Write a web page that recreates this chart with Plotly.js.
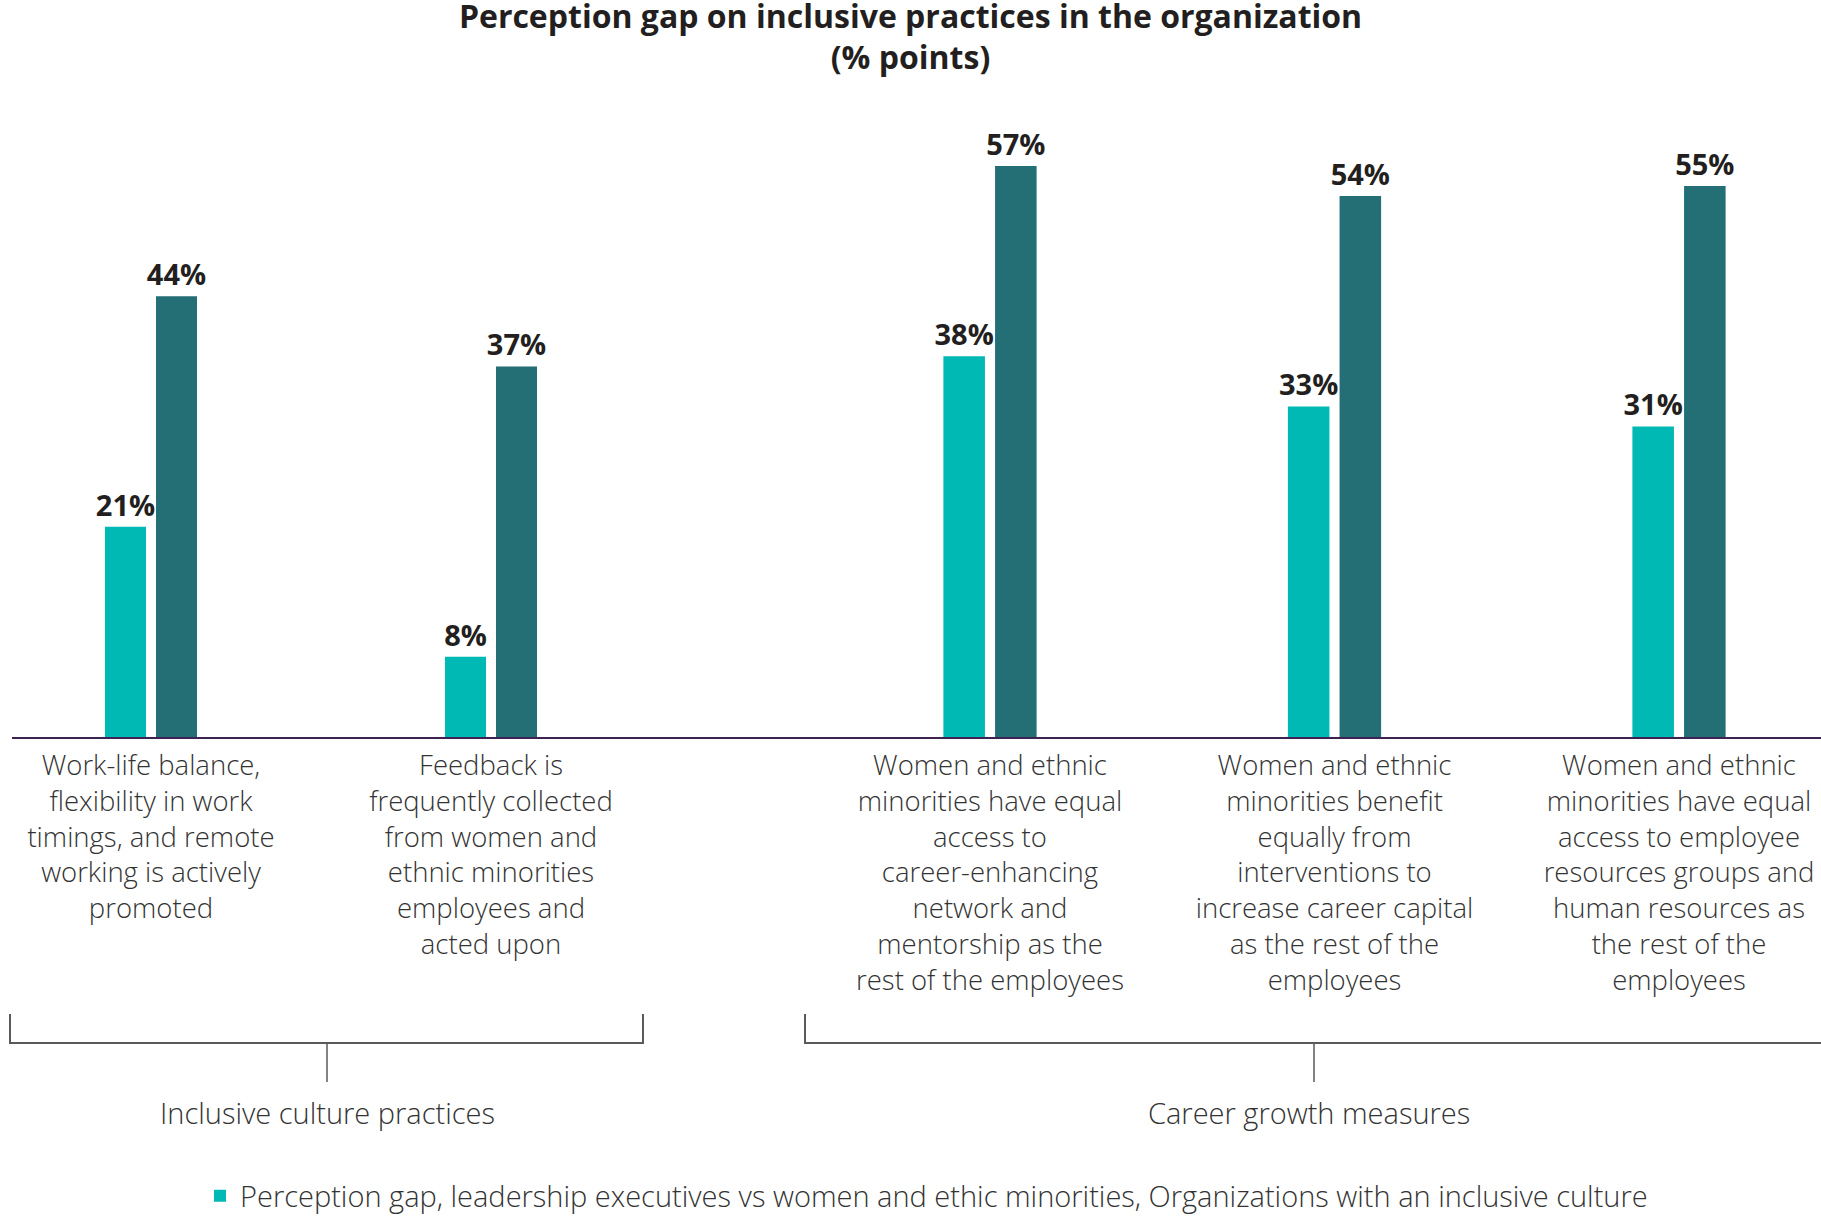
<!DOCTYPE html>
<html>
<head>
<meta charset="utf-8">
<script src="https://cdn.plot.ly/plotly-3.0.1.min.js"></script>
<style>html,body{margin:0;padding:0;background:#fff;}#chart{width:1821px;height:1229px;}</style>
</head>
<body>
<div id="chart"></div>
<script>
// ---- data ----
const cultureCategories = [
  "Work-life balance,<br>flexibility in work<br>timings, and remote<br>working is actively<br>promoted",
  "Feedback is<br>frequently collected<br>from women and<br>ethnic minorities<br>employees and<br>acted upon"
];
const careerCategories = [
  "Women and ethnic<br>minorities have equal<br>access to<br>career-enhancing<br>network and<br>mentorship as the<br>rest of the employees",
  "Women and ethnic<br>minorities benefit<br>equally from<br>interventions to<br>increase career capital<br>as the rest of the<br>employees",
  "Women and ethnic<br>minorities have equal<br>access to employee<br>resources groups and<br>human resources as<br>the rest of the<br>employees"
];
const cultureWithInclusive = [21, 8];
const cultureWithoutInclusive = [44, 37];
const careerWithInclusive = [38, 33, 31];
const careerWithoutInclusive = [57, 54, 55];
const groupLabels = ["Inclusive culture practices", "Career growth measures"];
const seriesNames = [
  "Perception gap, leadership executives vs women and ethic minorities, Organizations with an inclusive culture",
  "Perception gap, leadership executives vs women and ethic minorities, Organizations without an inclusive culture"
];
const chartTitle = "Perception gap on inclusive practices in the organization<br>(% points)";

// ---- style ----
const W = 1821, H = 1229;
const TEAL = "#00b9b4", DARK = "#246e76";
const FONT = "'Open Sans', 'Noto Sans', 'DejaVu Sans', sans-serif";
const plotTop = 136, plotBottom = 737;
const px = x => x / W;
const py = y => (plotBottom - y) / (plotBottom - plotTop);
const pct = v => v + "%";

const labelFont = {family: FONT, size: 29, color: "#231f20", weight: 700};

function barTrace(x, y, name, color, xa, showLegend) {
  return {
    type: "bar", x: x, y: y, name: name, xaxis: xa, yaxis: "y",
    marker: {color: color},
    text: y.map(pct), textposition: "outside", textfont: labelFont,
    constraintext: "none", cliponaxis: false,
    showlegend: showLegend, legendgroup: name,
    hoverinfo: "x+y"
  };
}

const data = [
  barTrace(cultureCategories, cultureWithInclusive, seriesNames[0], TEAL, "x", true),
  barTrace(cultureCategories, cultureWithoutInclusive, seriesNames[1], DARK, "x", false),
  barTrace(careerCategories, careerWithInclusive, seriesNames[0], TEAL, "x2", false),
  barTrace(careerCategories, careerWithoutInclusive, seriesNames[1], DARK, "x2", false)
];

const tickFont = {family: FONT, size: 27.5, color: "#333333", weight: 300};
const sideFont = {family: FONT, size: 29, color: "#333333", weight: 300};
const axisLine = "#3d2352";
const xCommon = {
  type: "category", showgrid: false, zeroline: false, showline: true,
  linecolor: axisLine, linewidth: 2, ticks: "", tickfont: tickFont,
  ticklabelstandoff: 3,
  anchor: "y", fixedrange: true, automargin: false
};

const bracketColor = "#5a5a5a";
const shapes = [
  {type: "path", xref: "paper", yref: "paper",
   path: `M ${px(10)},${py(1014)} L ${px(10)},${py(1043)} L ${px(643)},${py(1043)} L ${px(643)},${py(1014)}`,
   line: {color: bracketColor, width: 2}},
  {type: "line", xref: "paper", yref: "paper", x0: px(327), x1: px(327), y0: py(1043), y1: py(1082),
   line: {color: bracketColor, width: 1.5}},
  {type: "path", xref: "paper", yref: "paper",
   path: `M ${px(805)},${py(1014)} L ${px(805)},${py(1043)} L ${px(1821)},${py(1043)}`,
   line: {color: bracketColor, width: 2}},
  {type: "line", xref: "paper", yref: "paper", x0: px(1314), x1: px(1314), y0: py(1043), y1: py(1082),
   line: {color: bracketColor, width: 1.5}}
];

const annotations = [
  {text: groupLabels[0], xref: "paper", yref: "paper", x: px(327), y: py(1112),
   xanchor: "center", yanchor: "middle", showarrow: false, font: sideFont},
  {text: groupLabels[1], xref: "paper", yref: "paper", x: px(1309), y: py(1112),
   xanchor: "center", yanchor: "middle", showarrow: false, font: sideFont}
];

const layout = {
  width: W, height: H,
  margin: {l: 0, r: 0, t: plotTop, b: H - plotBottom, pad: 0},
  paper_bgcolor: "#ffffff", plot_bgcolor: "#ffffff",
  title: {
    text: chartTitle, x: 0.5, xanchor: "center", y: 0.9775, yanchor: "top",
    yref: "container", pad: {t: 0},
    font: {family: FONT, size: 32, color: "#231f20", weight: 700}
  },
  barmode: "group", bargap: 0.7, bargroupgap: 0.196,
  xaxis: Object.assign({}, xCommon, {domain: [px(12), px(720)], range: [(12 - 151) / 340, (720 - 151) / 340]}),
  xaxis2: Object.assign({}, xCommon, {domain: [px(720), 1], range: [(720 - 990) / 344.5, (1821 - 990) / 344.5]}),
  yaxis: {range: [0, 60], visible: false, fixedrange: true},
  showlegend: true,
  legend: {
    orientation: "h", x: px(200), xanchor: "left", y: py(1196), yanchor: "middle",
    font: sideFont,
    bgcolor: "rgba(0,0,0,0)"
  },
  shapes: shapes,
  annotations: annotations
};

Plotly.newPlot("chart", data, layout, {displayModeBar: false, staticPlot: true});
</script>
</body>
</html>
